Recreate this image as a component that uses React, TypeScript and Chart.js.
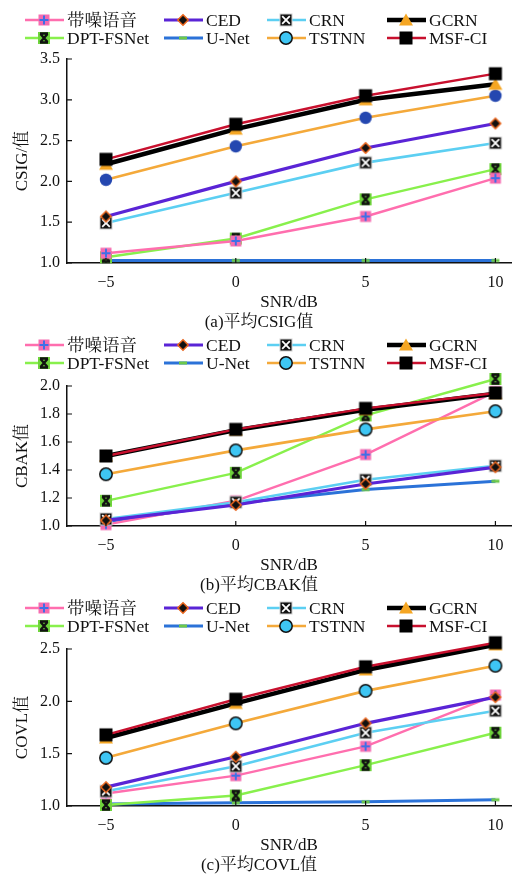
import React, { useEffect, useRef } from "react";
import { Chart, registerables } from "chart.js";

Chart.register(...registerables);

// ---------------- data ----------------
const snrLevels = [-5, 0, 5, 10];
const xTickValues = [-5, 0, 5, 10];
const seriesNames = ["带噪语音", "CED", "CRN", "GCRN", "DPT-FSNet", "U-Net", "TSTNN", "MSF-CI"];

const csigNoisy = [1.12, 1.27, 1.57, 2.04];
const csigCED = [1.57, 2.0, 2.41, 2.71];
const csigCRN = [1.49, 1.86, 2.23, 2.47];
const csigGCRN = [2.21, 2.64, 3.0, 3.19];
const csigDPT = [1.07, 1.3, 1.78, 2.15];
const csigUNet = [1.03, 1.03, 1.03, 1.03];
const csigTSTNN = [2.02, 2.43, 2.78, 3.05];
const csigMSF = [2.27, 2.7, 3.05, 3.32];

const cbakNoisy = [1.01, 1.18, 1.51, 1.96];
const cbakCED = [1.04, 1.15, 1.3, 1.42];
const cbakCRN = [1.05, 1.17, 1.33, 1.43];
const cbakGCRN = [1.5, 1.685, 1.83, 1.945];
const cbakDPT = [1.18, 1.38, 1.79, 2.05];
const cbakUNet = [1.03, 1.16, 1.26, 1.32];
const cbakTSTNN = [1.37, 1.54, 1.69, 1.82];
const cbakMSF = [1.5, 1.69, 1.84, 1.95];

const covlNoisy = [1.12, 1.29, 1.57, 2.06];
const covlCED = [1.18, 1.47, 1.79, 2.04];
const covlCRN = [1.14, 1.38, 1.7, 1.91];
const covlGCRN = [1.65, 1.98, 2.3, 2.54];
const covlDPT = [1.01, 1.1, 1.39, 1.7];
const covlUNet = [1.02, 1.03, 1.04, 1.06];
const covlTSTNN = [1.46, 1.79, 2.1, 2.34];
const covlMSF = [1.68, 2.02, 2.33, 2.56];

const csigSeries = [csigNoisy, csigCED, csigCRN, csigGCRN, csigDPT, csigUNet, csigTSTNN, csigMSF];
const cbakSeries = [cbakNoisy, cbakCED, cbakCRN, cbakGCRN, cbakDPT, cbakUNet, cbakTSTNN, cbakMSF];
const covlSeries = [covlNoisy, covlCED, covlCRN, covlGCRN, covlDPT, covlUNet, covlTSTNN, covlMSF];

// ---------------- styles ----------------
const lineColors = ["#ff6eae", "#5a24d6", "#5ccff2", "#000000", "#88f04c", "#2b72d8", "#f4a93a", "#c8102e"];
const lineWidths = [2.4, 3.2, 2.6, 4.5, 2.4, 3, 2.6, 2.4];
const drawOrder = [6, 4, 5, 1, 7, 8, 3, 0];
const markerKinds = ["noisy", "ced", "crn", "gcrn", "dpt", "unet", "tstnn", "msf"];

const FONT = "'Liberation Serif', 'Noto Serif CJK SC', 'Noto Sans CJK SC', serif";

function makeMarker(kind: string, dark: boolean): HTMLCanvasElement {
  const s = 18;
  const c = document.createElement("canvas");
  c.width = s;
  c.height = s;
  const g = c.getContext("2d")!;
  const m = s / 2;
  g.lineCap = "butt";
  switch (kind) {
    case "noisy": {
      g.fillStyle = "#f66cb0";
      g.fillRect(m - 5.5, m - 5.5, 11, 11);
      g.strokeStyle = "#3f6fe6";
      g.lineWidth = 2;
      g.beginPath();
      g.moveTo(m - 4.5, m);
      g.lineTo(m + 4.5, m);
      g.moveTo(m, m - 4.5);
      g.lineTo(m, m + 4.5);
      g.stroke();
      break;
    }
    case "ced": {
      g.fillStyle = "#111";
      g.strokeStyle = "#e8641c";
      g.lineWidth = 1.6;
      g.beginPath();
      g.moveTo(m, m - 5.2);
      g.lineTo(m + 5.2, m);
      g.lineTo(m, m + 5.2);
      g.lineTo(m - 5.2, m);
      g.closePath();
      g.fill();
      g.stroke();
      break;
    }
    case "crn": {
      g.fillStyle = "#d0d0d0";
      g.fillRect(m - 6.5, m - 6.5, 13, 13);
      g.fillStyle = "#111";
      g.fillRect(m - 5.5, m - 5.5, 11, 11);
      g.strokeStyle = "#fff";
      g.lineWidth = 1.8;
      g.beginPath();
      g.moveTo(m - 3.8, m - 3.8);
      g.lineTo(m + 3.8, m + 3.8);
      g.moveTo(m + 3.8, m - 3.8);
      g.lineTo(m - 3.8, m + 3.8);
      g.stroke();
      break;
    }
    case "gcrn": {
      g.fillStyle = "#f5a623";
      g.beginPath();
      g.moveTo(m, m - 6.5);
      g.lineTo(m + 7, m + 5.5);
      g.lineTo(m - 7, m + 5.5);
      g.closePath();
      g.fill();
      break;
    }
    case "dpt": {
      g.fillStyle = "#6fd43c";
      g.fillRect(m - 6, m - 6, 12, 12);
      g.strokeStyle = "#111";
      g.lineWidth = 2.4;
      g.beginPath();
      g.moveTo(m - 3.5, m - 4);
      g.lineTo(m + 3.5, m + 4);
      g.moveTo(m + 3.5, m - 4);
      g.lineTo(m - 3.5, m + 4);
      g.moveTo(m - 4, m - 4.5);
      g.lineTo(m + 4, m - 4.5);
      g.moveTo(m - 4, m + 4.5);
      g.lineTo(m + 4, m + 4.5);
      g.stroke();
      break;
    }
    case "unet": {
      g.fillStyle = "#6cc84a";
      g.fillRect(m - 4, m - 1.5, 8, 3);
      break;
    }
    case "tstnn": {
      g.beginPath();
      g.arc(m, m, 6.2, 0, Math.PI * 2);
      if (dark) {
        g.fillStyle = "#2447b0";
        g.fill();
      } else {
        g.fillStyle = "#3ec6f4";
        g.fill();
        g.strokeStyle = "#111";
        g.lineWidth = 1.5;
        g.stroke();
      }
      break;
    }
    case "msf": {
      g.fillStyle = "#000";
      g.fillRect(m - 6.5, m - 6.5, 13, 13);
      break;
    }
  }
  return c;
}

const legendCols = [25, 164, 267, 387];
const legendRows = [20, 38];

const legendPlugin = {
  id: "gridLegend",
  afterDraw(chart: any) {
    const ctx = chart.ctx;
    const markers = chart.options.plugins.gridLegend.markers as HTMLCanvasElement[];
    ctx.save();
    seriesNames.forEach((name, i) => {
      const col = i % 4;
      const row = Math.floor(i / 4);
      const x0 = legendCols[col];
      const y = legendRows[row];
      ctx.strokeStyle = lineColors[i];
      ctx.lineWidth = lineWidths[i];
      ctx.beginPath();
      ctx.moveTo(x0, y);
      ctx.lineTo(x0 + 39, y);
      ctx.stroke();
      const mk = markers[i];
      ctx.drawImage(mk, x0 + 19 - mk.width / 2, y - mk.height / 2);
      ctx.fillStyle = "#111";
      ctx.font = `17.5px ${FONT}`;
      ctx.textBaseline = "middle";
      ctx.textAlign = "left";
      ctx.fillText(name, x0 + 42, y + 1);
    });
    ctx.restore();
  },
};

const innerTicksPlugin = {
  id: "innerTicks",
  afterDatasetsDraw(chart: any) {
    const ctx = chart.ctx;
    const { left, bottom } = chart.chartArea;
    const xs = chart.scales.x;
    const ys = chart.scales.y;
    ctx.save();
    ctx.strokeStyle = "#111";
    ctx.lineWidth = 1.2;
    ctx.beginPath();
    ys.ticks.forEach((t: any) => {
      const py = ys.getPixelForValue(t.value);
      ctx.moveTo(left, py);
      ctx.lineTo(left + 5, py);
    });
    xs.ticks.forEach((t: any) => {
      const px = xs.getPixelForValue(t.value);
      ctx.moveTo(px, bottom);
      ctx.lineTo(px, bottom - 5);
    });
    ctx.stroke();
    ctx.restore();
  },
};

type PanelProps = {
  top: number;
  height: number;
  padTop: number;
  series: number[][];
  yMin: number;
  yMax: number;
  yStep: number;
  yTitle: string;
  caption: string;
  dark: boolean;
};

function Panel(p: PanelProps) {
  const ref = useRef<HTMLCanvasElement | null>(null);
  useEffect(() => {
    const canvas = ref.current!;
    const chartMarkers = markerKinds.map((k) => makeMarker(k, p.dark));
    const legendMarkers = markerKinds.map((k) => makeMarker(k, false));
    const datasets = seriesNames.map((name, i) => ({
      label: name,
      data: snrLevels.map((x, j) => ({ x, y: p.series[i][j] })),
      borderColor: lineColors[i],
      backgroundColor: lineColors[i],
      borderWidth: lineWidths[i],
      pointStyle: chartMarkers[i] as any,
      pointRadius: 6,
      tension: 0,
      clip: false as any,
      order: drawOrder[i],
    }));
    const chart = new Chart(canvas, {
      type: "line",
      data: { datasets },
      plugins: [legendPlugin, innerTicksPlugin],
      options: {
        animation: false,
        responsive: false,
        maintainAspectRatio: false,
        layout: { padding: { top: p.padTop, left: 7, right: 18, bottom: 0 } },
        plugins: {
          legend: { display: false },
          tooltip: { enabled: false },
          title: {
            display: true,
            position: "bottom",
            text: p.caption,
            color: "#111",
            font: { family: FONT, size: 17, weight: "normal", lineHeight: 1.2 },
            padding: { top: 0, bottom: 1.8 },
          },
          gridLegend: { markers: legendMarkers },
        } as any,
        scales: {
          x: {
            type: "linear",
            min: -6.5,
            max: 10.6,
            grid: { display: false, drawTicks: false },
            border: { display: true, color: "#111", width: 1.5 },
            afterBuildTicks: (scale: any) => {
              scale.ticks = xTickValues.map((v) => ({ value: v }));
            },
            afterFit: (scale: any) => {
              scale.height = 49.8;
            },
            ticks: {
              color: "#111",
              padding: 10,
              font: { family: FONT, size: 16 },
              callback: (v: any) => (Number(v) < 0 ? "\u2212" + Math.abs(Number(v)) : String(v)),
            },
            title: {
              display: true,
              text: "SNR/dB",
              color: "#111",
              font: { family: FONT, size: 17, lineHeight: 1.2 },
              padding: { top: 0, bottom: 0 },
            },
          },
          y: {
            type: "linear",
            min: p.yMin,
            max: p.yMax,
            grid: { display: false, drawTicks: false },
            border: { display: true, color: "#111", width: 1.5 },
            afterFit: (scale: any) => {
              scale.width = 60;
            },
            ticks: {
              stepSize: p.yStep,
              color: "#111",
              padding: 7,
              font: { family: FONT, size: 16 },
              callback: (v: any) => Number(v).toFixed(1),
            },
            title: {
              display: true,
              text: p.yTitle,
              color: "#111",
              font: { family: FONT, size: 17, lineHeight: 1.2 },
              padding: { top: 5, bottom: 0 },
            },
          },
        },
      } as any,
    });
    return () => chart.destroy();
  }, []);
  return (
    <canvas
      ref={ref}
      width={529}
      height={p.height}
      style={{ position: "absolute", left: 0, top: p.top, width: 529, height: p.height }}
    />
  );
}

export default function App() {
  return (
    <div style={{ position: "absolute", left: 0, top: 0, width: 529, height: 879, background: "#fff" }}>
      <Panel top={0} height={335} padTop={59} series={csigSeries} yMin={1} yMax={3.5} yStep={0.5}
        yTitle="CSIG/值" caption="(a)平均CSIG值" dark={true} />
      <Panel top={325} height={273} padTop={61} series={cbakSeries} yMin={1} yMax={2} yStep={0.2}
        yTitle="CBAK值" caption="(b)平均CBAK值" dark={false} />
      <Panel top={588} height={290} padTop={61} series={covlSeries} yMin={1} yMax={2.5} yStep={0.5}
        yTitle="COVL值" caption="(c)平均COVL值" dark={false} />
    </div>
  );
}
